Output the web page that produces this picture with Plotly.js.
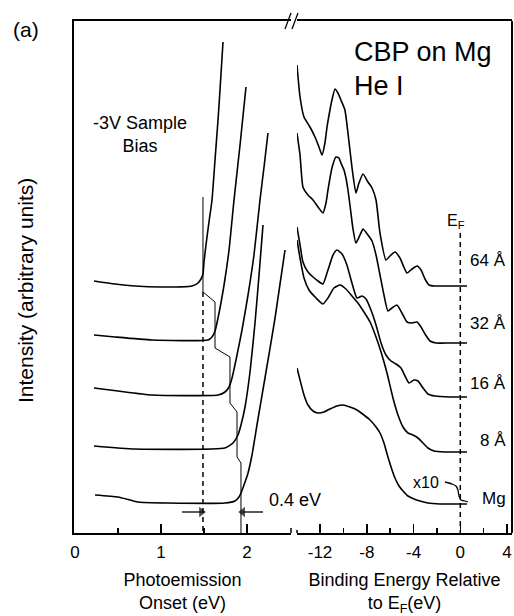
<!DOCTYPE html>
<html>
<head>
<meta charset="utf-8">
<script src="https://cdn.plot.ly/plotly-3.0.1.min.js"></script>
<style>html,body{margin:0;padding:0;background:#fff;}#chart{width:514px;height:616px;}</style>
</head>
<body>
<div id="chart"></div>
<script>
// ---------- Left panel: photoemission onset (eV) ----------
const onset64X = [0.221,0.465,0.698,0.988,1.360,1.430,1.465,1.488,1.500,1.523,1.558,1.593,1.628,1.663,1.686,1.721];
const onset64Y = [252,249,247,246,247,250,254,259,271,288,311,333,373,413,443,491];
const onset32X = [0.221,0.465,0.895,1.547,1.593,1.628,1.663,1.733,1.791,1.849,1.919,1.988];
const onset32Y = [198,196,193,193,196,202,215,248,283,333,388,446];
const onset16X = [0.221,0.500,0.895,1.663,1.744,1.791,1.826,1.872,1.942,2.012,2.081,2.151,2.198,2.244];
const onset16Y = [145,142,138,138,141,146,155,173,203,238,278,333,366,400];
const onset8X  = [0.221,0.698,1.744,1.837,1.895,1.930,1.977,2.035,2.093,2.140,2.186];
const onset8Y  = [87,84,85,90,98,108,126,161,210,258,308];
const onsetMgX = [0.233,0.500,0.733,1.081,1.744,1.860,1.907,1.930,1.965,2.012,2.058,2.116,2.209,2.326,2.442];
const onsetMgY = [38,36,31,30,30,32,36,40,48,60,78,108,155,215,283];
// step line joining the onsets
const stepX = [1.488,1.488,1.628,1.628,1.802,1.802,1.884,1.884,1.930,1.930];
const stepY = [336,241,231,185,176,130,121,76,70,0];
const onsetLow = 1.488, onsetHigh = 1.930, onsetDashTop = 241;
// 0.4 eV shift arrows (tail x, tip x)
const arrowLeftX = [1.244, 1.470];
const arrowRightX = [2.186, 1.950];
const arrowY = 21;

// ---------- Right panel: binding energy relative to E_F (eV) ----------
const be64X = [-13.97,-13.71,-13.37,-12.86,-12.43,-12.09,-11.83,-11.58,-11.40,-11.15,-10.98,-10.72,-10.47,-10.21,-9.87,-9.61,-9.27,-8.93,-8.67,-8.32,-7.90,-7.55,-7.21,-6.87,-6.36,-5.93,-5.59,-5.16,-4.56,-4.13,-3.70,-3.36,-3.02,-2.68,-2.17,-0.88,0.57];
const be64Y = [468,436,416,406,396,386,378,390,406,423,433,444,440,433,423,400,366,340,350,359,351,345,333,300,273,278,281,275,260,264,267,263,254,248,247,247,247];
const be32X = [-13.97,-13.71,-13.46,-13.03,-12.60,-12.17,-11.75,-11.49,-11.32,-10.98,-10.64,-10.38,-10.21,-9.95,-9.78,-9.61,-9.44,-9.19,-8.93,-8.58,-8.32,-7.90,-7.55,-7.21,-6.87,-6.53,-6.19,-5.84,-5.42,-4.90,-4.56,-4.13,-3.70,-3.36,-3.02,-2.59,-2.08,-0.88,0.57];
const be32Y = [400,378,346,338,333,326,320,330,343,365,376,375,370,363,355,343,328,305,290,298,304,298,292,278,258,238,222,225,228,218,211,210,211,206,199,192,190,190,190];
const be16X = [-13.97,-13.71,-13.46,-13.03,-12.60,-12.17,-11.75,-11.32,-10.89,-10.55,-10.12,-9.70,-9.27,-8.84,-8.41,-8.07,-7.64,-7.21,-6.78,-6.36,-5.93,-5.50,-5.07,-4.73,-4.39,-3.96,-3.62,-3.19,-2.77,-2.17,-0.88,0.57];
const be16Y = [306,288,271,261,256,252,249,263,278,283,279,268,250,235,237,234,223,208,190,178,172,169,165,157,150,153,152,145,139,137,136,136];
const be8X  = [-13.97,-13.71,-13.37,-12.94,-12.34,-11.75,-11.32,-10.81,-10.29,-9.78,-9.27,-8.76,-8.24,-7.72,-7.21,-6.78,-6.27,-5.76,-5.33,-4.90,-4.48,-4.05,-3.62,-3.19,-2.77,-2.25,-1.31,0.57];
const be8Y  = [293,275,255,243,235,229,235,245,248,244,237,230,221,211,196,181,160,135,118,106,100,98,95,90,85,82,81,81];
const beMgX = [-13.97,-13.71,-13.37,-13.03,-12.60,-12.17,-11.66,-11.15,-10.55,-10.04,-9.44,-8.84,-8.24,-7.72,-7.21,-6.87,-6.53,-6.19,-5.84,-5.59,-5.24,-4.90,-4.48,-3.96,-3.45,-2.77,-1.74,-0.45,0.57];
const beMgY = [165,153,138,128,122,120,121,124,127,128,126,123,118,113,106,100,90,76,63,55,47,42,37,34,32,30,29,29,29];
// Mg Fermi edge, x10
const mgX10X = [-1.31,-0.71,-0.37,-0.20,-0.11,0.06,0.40,0.66];
const mgX10Y = [51,49,47,43,37,33,32,31];
const fermiTop = 300;

// ---------- labels ----------
const leftTickVals = [0,1,2];
const leftTickText = ['0','1','2'];
const rightTickVals = [-12,-8,-4,0,4];
const rightTickText = ['-12','-8','-4','0','4'];
const sampleLabels = ['64 Å','32 Å','16 Å','8 Å','Mg'];
const sampleLabelY = [273,210,150,93,35];

const FONT = 'Liberation Sans, Arial, Helvetica, sans-serif';
const smoothLine = {color:'#000', width:1.6, shape:'spline', smoothing:0.5};
function tr(x, y, xa, extra) {
  return Object.assign({x:x, y:y, xaxis:xa, yaxis:'y', mode:'lines', line:smoothLine, hoverinfo:'skip', showlegend:false, cliponaxis:false}, extra||{});
}
function arrow(xs, sym) {
  return tr(xs, [arrowY, arrowY], 'x', {
    mode:'lines+markers', line:{color:'#000', width:1.3},
    marker:{symbol:['circle', sym], size:[0, 9], color:'#000', line:{width:0}}
  });
}

const data = [
  tr(onset64X, onset64Y, 'x'),
  tr(onset32X, onset32Y, 'x'),
  tr(onset16X, onset16Y, 'x'),
  tr(onset8X, onset8Y, 'x'),
  tr(onsetMgX, onsetMgY, 'x'),
  tr(stepX, stepY, 'x', {line:{color:'#000', width:1}}),
  tr([onsetLow, onsetLow], [onsetDashTop, 0], 'x', {line:{color:'#000', width:1.5, dash:'5px,4px'}}),
  arrow(arrowLeftX, 'triangle-right'),
  arrow(arrowRightX, 'triangle-left'),
  tr(be64X, be64Y, 'x2'),
  tr(be32X, be32Y, 'x2'),
  tr(be16X, be16Y, 'x2'),
  tr(be8X, be8Y, 'x2'),
  tr(beMgX, beMgY, 'x2'),
  tr(mgX10X, mgX10Y, 'x2', {line:{color:'#000', width:1.3, shape:'spline', smoothing:0.4}}),
  tr([0, 0], [fermiTop, 0], 'x2', {line:{color:'#000', width:1.5, dash:'5px,4px'}})
];

const W = 514, H = 616, ML = 74, MR = 2, MT = 21, MB = 83;
const PW = W - ML - MR, PH = H - MT - MB;
const px = v => (v - ML) / PW;          // page px -> paper x
const py = v => (H - MB - v) / PH;      // page px -> paper y

const annotations = [];
sampleLabels.forEach((t, i) => annotations.push({
  xref:'x2', yref:'y', x:4.12, y:sampleLabelY[i], text:t, showarrow:false,
  xanchor:'right', yanchor:'middle', font:{size:17, family:FONT, color:'#000'}
}));
annotations.push(
  {xref:'x2', yref:'y', x:-9.3, y:481, text:'CBP on Mg', showarrow:false, xanchor:'left', yanchor:'middle', font:{size:27, family:FONT, color:'#000'}},
  {xref:'x2', yref:'y', x:-9.3, y:447, text:'He I', showarrow:false, xanchor:'left', yanchor:'middle', font:{size:27, family:FONT, color:'#000'}},
  {xref:'x2', yref:'y', x:-0.35, y:312, text:'E<sub>F</sub>', showarrow:false, xanchor:'center', yanchor:'middle', font:{size:16, family:FONT, color:'#000'}},
  {xref:'x2', yref:'y', x:-2.93, y:51, text:'x10', showarrow:false, xanchor:'center', yanchor:'middle', font:{size:16, family:FONT, color:'#000'}},
  {xref:'x', yref:'y', x:0.756, y:399, text:'-3V Sample<br>Bias', showarrow:false, xanchor:'center', yanchor:'middle', align:'center', font:{size:18, family:FONT, color:'#000'}},
  {xref:'x', yref:'y', x:2.233, y:33, text:'0.4 eV', showarrow:false, xanchor:'left', yanchor:'middle', font:{size:18, family:FONT, color:'#000'}},
  {xref:'paper', yref:'paper', x:px(26), y:py(29), text:'(a)', showarrow:false, xanchor:'center', yanchor:'middle', font:{size:21, family:FONT, color:'#000'}},
  {xref:'paper', yref:'paper', x:px(25), y:py(291), text:'Intensity (arbitrary units)', textangle:-90, showarrow:false, xanchor:'center', yanchor:'middle', font:{size:21, family:FONT, color:'#000'}}
);

const shapes = [
  // right frame edge
  {type:'line', xref:'paper', yref:'paper', x0:1, x1:1, y0:0, y1:1, line:{color:'#000', width:2}},
  // axis break marks
  {type:'line', xref:'paper', yref:'paper', x0:px(285), x1:px(291), y0:py(29), y1:py(13), line:{color:'#000', width:1.3}},
  {type:'line', xref:'paper', yref:'paper', x0:px(292), x1:px(298), y0:py(29), y1:py(13), line:{color:'#000', width:1.3}},
  // small end marks at the bottom break
  {type:'line', xref:'paper', yref:'paper', x0:px(291), x1:px(291), y0:py(533), y1:py(528), line:{color:'#000', width:1.5}},
  {type:'line', xref:'paper', yref:'paper', x0:px(297), x1:px(297), y0:py(533), y1:py(530), line:{color:'#000', width:1.5}}
];

const xBase = {
  showline:true, linecolor:'#000', linewidth:2, mirror:true, showgrid:false, zeroline:false,
  ticks:'inside', ticklen:9, tickwidth:1.5, tickcolor:'#000', ticklabelstandoff:3,
  tickfont:{size:17, family:FONT, color:'#000'}, anchor:'y'
};

const layout = {
  width:W, height:H, margin:{l:ML, r:MR, t:MT, b:MB},
  paper_bgcolor:'#fff', plot_bgcolor:'#fff', showlegend:false,
  font:{family:FONT, color:'#000'},
  xaxis: Object.assign({}, xBase, {
    domain:[0, px(291)], range:[(74-75)/86, (291-75)/86],
    tickmode:'array', tickvals:leftTickVals, ticktext:leftTickText,
    minor:{dtick:0.5, tick0:0, ticks:'inside', ticklen:5, tickwidth:1.5, tickcolor:'#000', showgrid:false},
    title:{text:'Photoemission<br>Onset (eV)', font:{size:18, family:FONT, color:'#000'}, standoff:12}
  }),
  xaxis2: Object.assign({}, xBase, {
    domain:[px(297), 1], range:[(297-460.3)/11.69, (512-460.3)/11.69],
    tickmode:'array', tickvals:rightTickVals, ticktext:rightTickText,
    minor:{dtick:2, tick0:0, ticks:'inside', ticklen:5, tickwidth:1.5, tickcolor:'#000', showgrid:false},
    title:{text:'Binding Energy Relative<br>to E<sub>F</sub>(eV)', font:{size:18, family:FONT, color:'#000'}, standoff:12}
  }),
  yaxis: {
    domain:[0,1], range:[0,512], anchor:'x',
    showline:true, linecolor:'#000', linewidth:2, showgrid:false, zeroline:false,
    showticklabels:false, ticks:''
  },
  annotations: annotations,
  shapes: shapes
};

Plotly.newPlot('chart', data, layout, {displayModeBar:false, staticPlot:true});
</script>
</body>
</html>
